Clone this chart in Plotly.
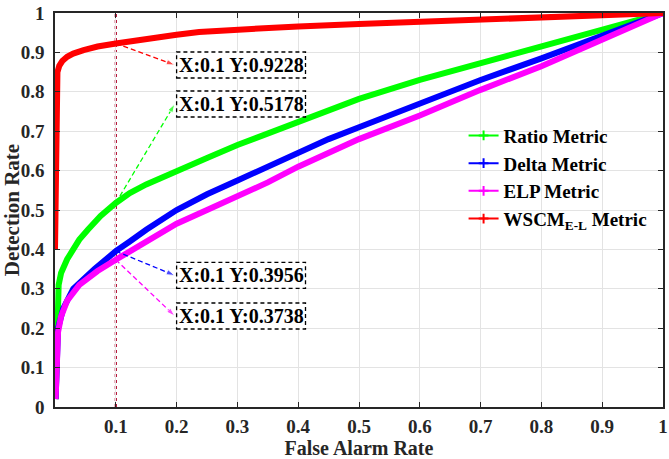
import plotly.graph_objects as go

# ---------------- data ----------------
wscm_x = [0.0, 0.001, 0.002, 0.004, 0.007, 0.012, 0.02, 0.03, 0.047, 0.07, 0.1, 0.15, 0.2, 0.237, 0.3, 0.4, 0.5, 0.6, 0.7, 0.8, 0.9, 1.0]
wscm_y = [0.40, 0.62, 0.80, 0.850, 0.866, 0.878, 0.889, 0.897, 0.906, 0.915, 0.9228, 0.935, 0.945, 0.952, 0.958, 0.966, 0.972, 0.978, 0.984, 0.989, 0.995, 1.0]

ratio_x = [0.001, 0.002, 0.003, 0.004, 0.006, 0.01, 0.02, 0.03, 0.04, 0.054, 0.075, 0.1, 0.123, 0.15, 0.2, 0.25, 0.3, 0.35, 0.4, 0.45, 0.5, 0.6, 0.7, 0.8, 0.9, 1.0]
ratio_y = [0.02, 0.10, 0.20, 0.28, 0.31, 0.34, 0.375, 0.40, 0.425, 0.45, 0.485, 0.5178, 0.543, 0.565, 0.60, 0.632, 0.665, 0.695, 0.725, 0.755, 0.782, 0.830, 0.873, 0.915, 0.958, 1.0]

delta_x = [0.001, 0.002, 0.003, 0.005, 0.0135, 0.03, 0.065, 0.1, 0.123, 0.15, 0.2, 0.25, 0.3, 0.35, 0.4, 0.45, 0.5, 0.6, 0.7, 0.8, 0.9, 1.0]
delta_y = [0.02, 0.08, 0.14, 0.20, 0.25, 0.30, 0.35, 0.3956, 0.42, 0.45, 0.50, 0.54, 0.575, 0.61, 0.645, 0.68, 0.71, 0.77, 0.83, 0.885, 0.943, 1.0]

elp_x = [0.001, 0.003, 0.005, 0.01, 0.02, 0.04, 0.07, 0.1, 0.15, 0.2, 0.25, 0.3, 0.35, 0.4, 0.45, 0.5, 0.6, 0.7, 0.8, 0.9, 1.0]
elp_y = [0.02, 0.12, 0.19, 0.23, 0.27, 0.31, 0.345, 0.3738, 0.42, 0.465, 0.50, 0.535, 0.57, 0.61, 0.645, 0.68, 0.74, 0.805, 0.865, 0.932, 1.0]

names = ["Ratio Metric", "Delta Metric", "ELP Metric", "WSCM<sub>E-L</sub> Metric"]
colors = ["#00FF00", "#0000FF", "#FF00FF", "#FF0000"]

tip_x = 0.1
tip_y = [0.9228, 0.5178, 0.3956, 0.3738]
tip_colors = ["#FF0000", "#00FF00", "#0000FF", "#FF00FF"]
tip_labels = ["X:0.1 Y:0.9228", "X:0.1 Y:0.5178", "X:0.1 Y:0.3956", "X:0.1 Y:0.3738"]

x_ticks = [0.1, 0.2, 0.3, 0.4, 0.5, 0.6, 0.7, 0.8, 0.9, 1.0]
y_ticks = [0, 0.1, 0.2, 0.3, 0.4, 0.5, 0.6, 0.7, 0.8, 0.9, 1.0]

# ---------------- layout constants ----------------
box_y = [0.868, 0.769, 0.334, 0.231]   # datatip box centres (data units)
box_x0 = 0.2
box_w = 0.212
box_h = 0.066
FONT = "Times New Roman, Liberation Serif, serif"
FS = 19

fig = go.Figure()

series = [(ratio_x, ratio_y), (delta_x, delta_y), (elp_x, elp_y), (wscm_x, wscm_y)]
for (xs, ys), c in zip(series, colors):
    fig.add_trace(go.Scatter(x=xs, y=ys, mode="lines",
                             line=dict(color=c, width=6),
                             showlegend=False, hoverinfo="skip"))

# legend entries
for n, c in zip(names, colors):
    fig.add_trace(go.Scatter(x=[None], y=[None], mode="lines+markers", name="<b>" + n + "</b>",
                             line=dict(color=c, width=2),
                             marker=dict(symbol="cross-thin", size=7, line=dict(color=c, width=2))))

# vertical dotted line at x = 0.1
fig.add_shape(type="line", x0=tip_x, x1=tip_x, y0=0, y1=1, xref="x", yref="y",
              line=dict(color="#B00028", width=2.2, dash="dot"), layer="below")

# datatips: dashed leader lines with arrows + dashed boxes
for ty, by, col, lab in zip(tip_y, box_y, tip_colors, tip_labels):
    fig.add_trace(go.Scatter(x=[tip_x, box_x0 - 0.003], y=[ty, by], mode="lines+markers",
                             line=dict(color=col, width=1.3, dash="5px,3px"),
                             marker=dict(symbol=["circle", "arrow"], size=[0, 9], angleref="previous",
                                         color=col),
                             showlegend=False, hoverinfo="skip"))
    fig.add_shape(type="rect", x0=box_x0, x1=box_x0 + box_w, y0=by - box_h / 2, y1=by + box_h / 2,
                  xref="x", yref="y", line=dict(color="black", width=1.3, dash="4px,3px"),
                  fillcolor="white", layer="above")
    fig.add_annotation(x=box_x0 + box_w / 2, y=by, xref="x", yref="y", text="<b>" + lab + "</b>",
                       showarrow=False, font=dict(family=FONT, size=20, color="black"))

axis_common = dict(showline=True, linecolor="#262626", linewidth=1.5, mirror="ticks",
                   ticks="inside", ticklen=5, tickwidth=1.2, tickcolor="#262626",
                   showgrid=True, gridcolor="#E3E3E3", gridwidth=1, zeroline=False,
                   ticklabeloverflow="allow", automargin=False,
                   tickfont=dict(family=FONT, size=FS, color="#262626"))

fig.update_xaxes(range=[0, 1], tickvals=x_ticks, ticktext=["<b>%g</b>" % v for v in x_ticks],
                 title=dict(text="<b>False Alarm Rate</b>", font=dict(family=FONT, size=20, color="#262626"), standoff=10),
                 ticklabelstandoff=1, **axis_common)
fig.update_yaxes(range=[0, 1], tickvals=y_ticks, ticktext=["<b>%g</b>" % v for v in y_ticks],
                 title=dict(text="<b>Detection Rate</b>", font=dict(family=FONT, size=21, color="#262626"), standoff=1),
                 ticklabelstandoff=5, **axis_common)

fig.update_layout(width=669, height=459, margin=dict(l=55, r=6, t=13, b=52),
                  plot_bgcolor="white", paper_bgcolor="white",
                  font=dict(family=FONT, size=FS, color="black"),
                  legend=dict(x=0.672, y=0.737, xanchor="left", yanchor="top",
                              bgcolor="rgba(0,0,0,0)", borderwidth=0,
                              font=dict(family=FONT, size=19, color="black"),
                              itemwidth=30, tracegroupgap=0))

fig.write_html("out.html")
